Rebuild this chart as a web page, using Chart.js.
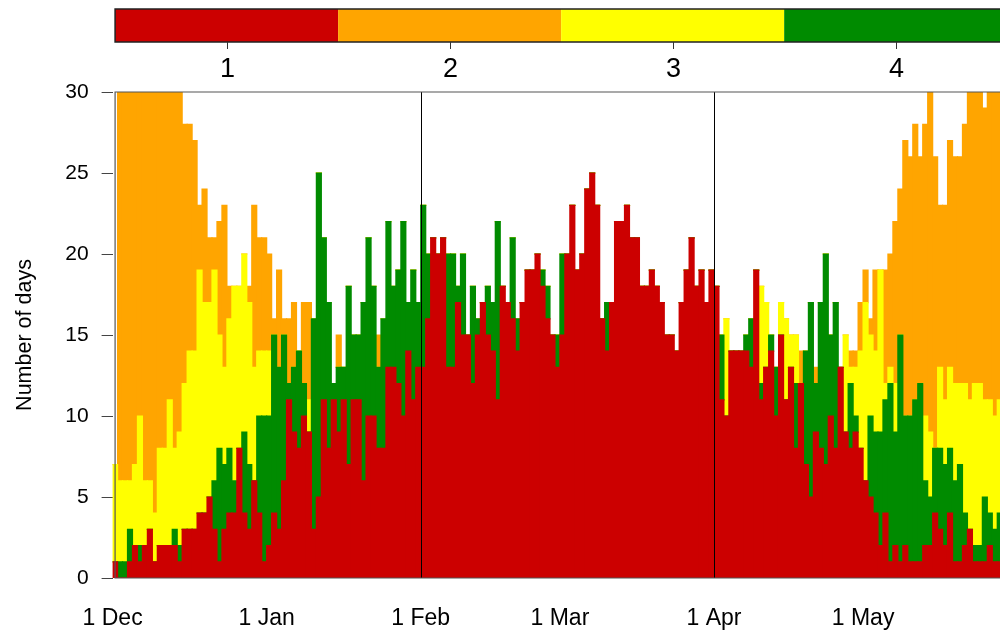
<!DOCTYPE html>
<html>
<head>
<meta charset="utf-8">
<script src="https://cdn.jsdelivr.net/npm/chart.js@4.4.1/dist/chart.umd.min.js"></script>
<style>
  html, body { margin: 0; padding: 0; background: #ffffff; overflow: hidden; }
  #wrap { width: 1000px; height: 631px; position: relative; }
</style>
</head>
<body>
<div id="wrap"><canvas id="c" width="1000" height="631"></canvas></div>
<script>
// Axis labels: first day of each month, counted in days from 1 December
const monthLabels = ['1 Dec', '1 Jan', '1 Feb', '1 Mar', '1 Apr', '1 May'];
const monthStarts = [0, 31, 62, 90, 121, 151];
// Month boundaries marked with a vertical rule (1 Feb, 1 Apr)
const markedDays = [62, 121];
const yTicks = [0, 5, 10, 15, 20, 25, 30];

// Categories shown in the colour key
const categories = ['1', '2', '3', '4'];
const categoryColors = ['#CC0000', '#FFA500', '#FFFF00', '#008B00'];

// Number of days per calendar day in each category, from 1 December onwards
const cat1 = [
  1,0,0,1,2,1,2,3,1,2, 2,2,2,1,3,3,3,4,4,5, 3,1,3,4,4,8,4,3,6,4,
  1,2,4,3,6,11,9,8,10,9, 3,5,11,8,11,9,11,7,11,11, 6,10,10,8,8,13,13,12,10,14,
  11,13,13,16,21,20,21,13,13,17, 15,15,12,15,17,15,14,11,18,17, 16,14,17,19,19,20,18,16,15,13,
  15,20,23,19,20,24,25,23,16,14, 17,22,22,23,21,21,18,18,19,18, 17,15,15,14,17,19,21,18,19,17,
  19,18,11,10,14,14,14,14,13,19, 11,13,14,10,15,11,13,8,12,7, 5,9,8,7,10,8,13,9,8,9,
  8,6,5,4,2,4,1,2,1,2, 1,1,1,2,2,4,3,2,4,1, 1,2,3,1,1,1,2,1,1,1
];
const cat4 = [
  0,1,1,2,0,1,0,0,0,0, 0,0,1,1,0,0,0,0,0,0, 3,7,4,4,2,0,5,4,0,6,
  9,8,11,10,9,1,4,6,2,0, 13,20,10,9,1,4,2,11,4,4, 11,11,8,5,8,9,5,7,12,3,
  8,4,10,4,0,0,0,7,7,1, 5,0,6,1,0,3,3,11,0,0, 5,2,0,0,0,0,1,2,0,2,
  5,0,0,0,0,0,0,0,0,3, 0,0,0,0,0,0,0,0,0,0, 0,0,0,0,0,0,0,0,0,0,
  0,0,4,0,0,0,0,1,3,0, 1,0,1,3,0,0,0,4,0,7, 12,3,9,13,5,9,0,0,4,1,
  0,0,5,5,7,7,11,7,14,8, 9,10,11,4,3,4,5,5,4,5, 6,2,0,1,1,4,2,2,3,2
];
const cat3 = [
  6,5,5,3,5,8,4,3,3,6, 6,9,5,7,9,11,11,15,13,12, 13,7,6,8,12,10,11,10,7,4,
  4,4,0,0,0,0,0,0,0,2, 0,0,0,0,0,0,0,0,0,0, 0,0,0,0,0,0,0,0,0,0,
  0,0,0,0,0,0,0,0,0,0, 0,0,0,0,0,0,0,0,0,0, 0,0,0,0,0,0,0,0,0,0,
  0,0,0,0,0,0,0,0,0,0, 0,0,0,0,0,0,0,0,0,0, 0,0,0,0,0,0,0,0,0,0,
  0,0,0,6,0,0,0,0,0,0, 6,4,0,0,2,5,2,3,0,0, 0,0,0,0,0,0,0,6,1,3,
  6,11,5,5,10,1,1,3,0,0, 0,0,0,4,4,0,5,4,5,6, 5,8,8,10,10,6,7,7,7,8
];
const cat2 = [
  0,24,24,24,23,20,24,24,26,22, 22,19,22,21,16,14,13,4,7,4, 2,7,10,2,0,0,0,1,10,7,
  7,6,1,6,1,4,4,0,5,6, 0,0,0,0,0,2,0,0,0,0, 0,0,0,2,0,0,0,0,0,0,
  0,0,0,0,0,0,0,0,0,0, 0,0,0,0,0,0,0,0,0,0, 0,0,0,0,0,0,0,0,0,0,
  0,0,0,0,0,0,0,0,0,0, 0,0,0,0,0,0,0,0,0,0, 0,0,0,0,0,0,0,0,0,0,
  0,0,0,0,0,0,0,0,0,0, 0,0,0,0,0,0,0,0,2,0, 0,1,0,0,0,0,0,0,1,1,
  3,2,1,5,0,7,7,10,9,17, 16,17,14,18,21,18,10,12,14,14, 14,16,19,18,18,18,19,20,19,19
];

const FONT = '"Liberation Sans", Arial, Helvetica, sans-serif';

function toPoints(arr) {
  return arr.map((v, i) => ({ x: i + 0.5, y: v }));
}

// Stacking order from the bottom: 1, 4, 3, 2
const stackOrder = [
  { label: '1', data: cat1 },
  { label: '4', data: cat4 },
  { label: '3', data: cat3 },
  { label: '2', data: cat2 }
];

const datasets = stackOrder.map(s => ({
  label: s.label,
  data: toPoints(s.data),
  backgroundColor: categoryColors[categories.indexOf(s.label)],
  borderWidth: 0,
  inflateAmount: 0.6,
  barPercentage: 1,
  categoryPercentage: 1
}));

// Frame, month rules and colour key
const decorations = {
  id: 'decorations',
  afterDatasetsDraw(chart) {
    const { ctx, chartArea: a, scales: { x } } = chart;
    const left = x.getPixelForValue(0.5);
    ctx.save();
    // month rules
    ctx.strokeStyle = '#000000';
    ctx.lineWidth = 1;
    markedDays.forEach(d => {
      const px = Math.round(x.getPixelForValue(d)) + 0.5;
      ctx.beginPath();
      ctx.moveTo(px, a.top);
      ctx.lineTo(px, a.bottom);
      ctx.stroke();
    });
    // frame
    ctx.strokeStyle = '#555555';
    ctx.lineWidth = 1.2;
    ctx.beginPath();
    ctx.moveTo(a.right + 2, a.top);
    ctx.lineTo(left, a.top);
    ctx.lineTo(left, a.bottom);
    ctx.lineTo(a.right + 2, a.bottom);
    ctx.stroke();
    ctx.restore();
  },
  afterDraw(chart) {
    const { ctx, scales: { x } } = chart;
    const left = x.getPixelForValue(0.5);
    const right = x.getPixelForValue(cat1.length);
    const segW = (right - left) / categories.length;
    const top = 9, bottom = 42;
    ctx.save();
    categories.forEach((c, i) => {
      ctx.fillStyle = categoryColors[i];
      ctx.fillRect(left + i * segW, top, segW, bottom - top);
    });
    ctx.strokeStyle = '#222222';
    ctx.lineWidth = 1.5;
    ctx.strokeRect(left, top, right - left, bottom - top);
    ctx.fillStyle = '#000000';
    ctx.font = '27px ' + FONT;
    ctx.textAlign = 'center';
    ctx.textBaseline = 'middle';
    categories.forEach((c, i) => {
      const cx = Math.round(left + (i + 0.5) * segW) + 0.5;
      ctx.strokeStyle = '#333333';
      ctx.lineWidth = 1;
      ctx.beginPath();
      ctx.moveTo(cx, bottom);
      ctx.lineTo(cx, bottom + 7);
      ctx.stroke();
      ctx.fillText(c, cx, 70);
    });
    ctx.restore();
  }
};

new Chart(document.getElementById('c'), {
  type: 'bar',
  data: { datasets },
  plugins: [decorations],
  options: {
    responsive: false,
    animation: false,
    devicePixelRatio: 1,
    layout: { padding: { top: 92, right: 0, bottom: 0, left: 0 } },
    plugins: { legend: { display: false }, tooltip: { enabled: false } },
    scales: {
      x: {
        type: 'linear',
        stacked: true,
        offset: false,
        min: 0,
        max: 178.55,
        afterFit(s) { s.height = 53; },
        afterBuildTicks(s) { s.ticks = monthStarts.map(v => ({ value: v })); },
        grid: { display: false, drawTicks: false },
        border: { display: false },
        ticks: {
          autoSkip: false,
          maxRotation: 0,
          padding: 27,
          color: '#000000',
          font: { family: FONT, size: 23 },
          callback: v => monthLabels[monthStarts.indexOf(v)]
        }
      },
      y: {
        stacked: true,
        min: 0,
        max: 30,
        afterFit(s) { s.width = 112.6; },
        afterBuildTicks(s) { s.ticks = yTicks.map(v => ({ value: v })); },
        grid: { drawOnChartArea: false, drawTicks: true, tickLength: 11, color: '#444444', lineWidth: 1 },
        border: { display: false },
        ticks: {
          padding: 13,
          color: '#000000',
          font: { family: FONT, size: 21 }
        },
        title: {
          display: true,
          text: 'Number of days',
          color: '#000000',
          font: { family: FONT, size: 21.5 },
          padding: { top: 12, bottom: 4 }
        }
      }
    }
  }
});
</script>
</body>
</html>
